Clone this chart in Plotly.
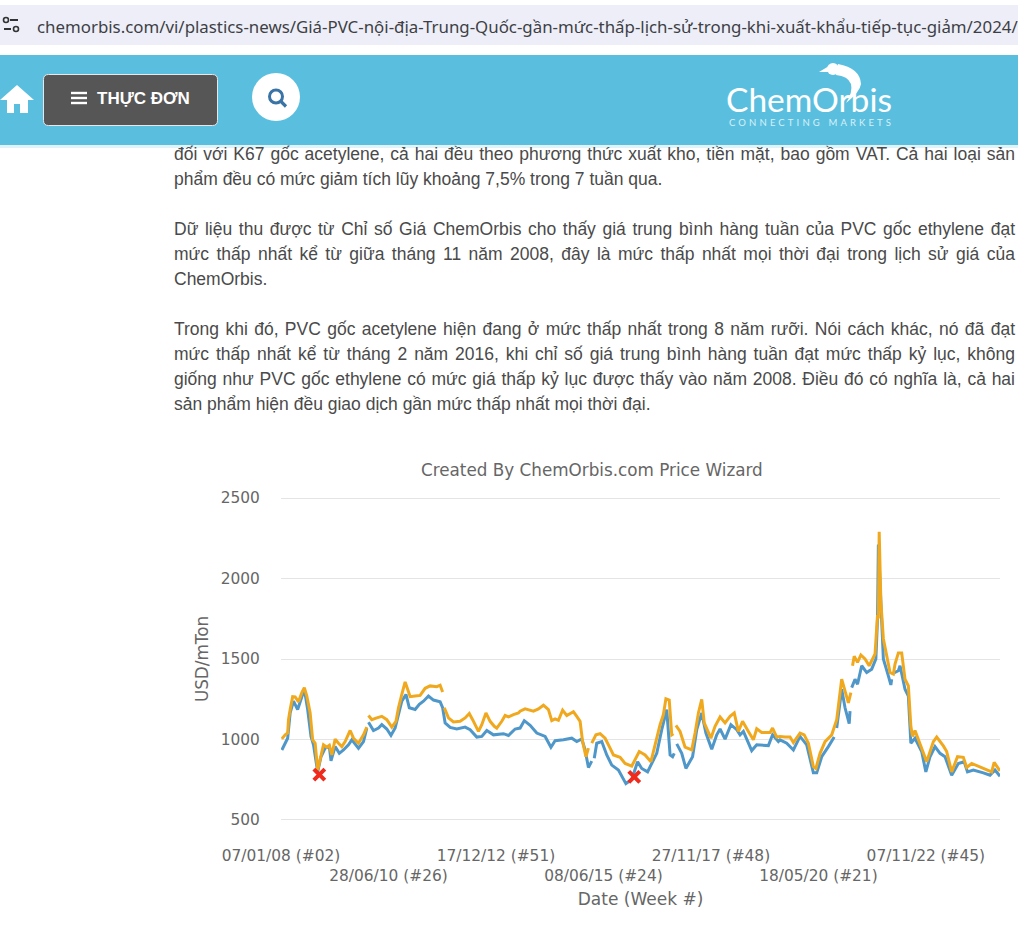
"""ChemOrbis article screenshot: PVC price chart with the page around it."""

import json

import plotly.graph_objects as go

# Weekly price readings, USD/mTon, week 0 = 07/01/08. None marks a gap in the line.
blue_weeks = [
    1, 5, 8, 11, 15, 20, 25, 28, 32, 36, 39, 44, 48, 53, 58, 60, 65, 70, 75, 81, 85, 93, 99, 103, 104,
    105, 111, 117, 121, 127, 132, 137, 141, 145, 150, 154, 161, 166, 171, 177, 183, 191, 194, 197, 203,
    211, 221, 227, 235, 241, 247, 255, 267, 273, 281, 287, 292, 299, 307, 317, 324, 329, 339, 349, 355,
    361, 365, 369, 373, 374, 376, 379, 385, 391, 397, 405, 414, 421, 428, 433, 440, 445, 451, 457, 463,
    467, 470, 472, 473, 475, 481, 486, 491, 494, 499, 505, 510, 517, 523, 527, 533, 540, 547, 551, 555,
    565, 571, 585, 590, 597, 599, 607, 615, 623, 631, 639, 643, 649, 657, 664, 665, 667, 673, 677, 682,
    683, 684, 685, 689, 692, 697, 703, 709, 714, 716, 717, 720, 723, 729, 732, 733, 734, 735, 741, 743,
    749, 753, 756, 761, 769, 774, 779, 785, 791, 797, 805, 813, 820, 824, 831, 843, 851, 857, 863,
]
blue_prices = [
    935, 977, 1008, 1165, 1238, 1186, 1259, 1312, 1186, 1019, 967, 799, 893, 946, 956, 868, 956, 914, 935,
    967, 998, 946, 987, 1071, None, 1107, 1056, 1071, 1092, 1065, 1025, 1071, 1165, 1238, 1280, 1197, 1186,
    1218, 1238, 1270, 1245, 1234, 1197, 1103, 1075, 1065, 1077, 1061, 1015, 1019, 1056, 1029, 1036, 1025,
    1065, 1071, 1117, 1088, 1040, 1019, 952, 992, 998, 1008, 987, 1004, 935, 826, 866, None, 883, 977, 987,
    904, 841, 810, 726, 751, 862, 820, 799, 851, 914, 1061, 1186, 904, 893, 914, None, 973, 914, 820, 872,
    893, 1061, 1165, 1040, 939, 1029, 1065, 1002, 1092, 1061, 1029, 1050, 931, 967, 962, 1029, 987, 998,
    977, 935, 1019, 967, 793, 793, 893, 956, 1015, None, 1071, 1312, 1197, 1098, 1176, None, 1322, 1374,
    1343, 1458, 1416, 1437, 1500, 1751, 2211, 1793, 1500, 1395, 1339, 1374, None, 1412, 1427, 1458, 1312,
    1270, 977, 1008, 925, 799, 893, 956, 914, 893, 778, 851, 862, 799, 810, 793, 778, 810, 772,
]
orange_weeks = [
    1, 5, 8, 9, 11, 14, 17, 21, 25, 28, 31, 35, 38, 41, 44, 47, 51, 55, 58, 61, 65, 69, 73, 77, 83, 87, 93,
    99, 103, 104, 105, 109, 115, 121, 127, 133, 138, 141, 145, 147, 149, 152, 155, 161, 167, 173, 179, 187,
    191, 194, 195, 196, 201, 207, 215, 221, 226, 230, 237, 241, 246, 251, 256, 259, 265, 269, 273, 279, 285,
    287, 293, 303, 309, 315, 321, 325, 329, 333, 338, 343, 351, 355, 359, 362, 366, 369, 371, 373, 378, 383,
    389, 395, 399, 407, 413, 421, 425, 430, 437, 444, 449, 455, 459, 462, 466, 469, 471, 472, 474, 479, 485,
    493, 497, 501, 505, 508, 516, 521, 527, 533, 539, 544, 549, 554, 561, 567, 571, 577, 587, 590, 595, 599,
    605, 611, 615, 623, 628, 633, 639, 642, 647, 653, 661, 665, 667, 673, 677, 681, 684, 685, 686, 688, 692,
    696, 701, 706, 713, 716, 717, 718, 720, 723, 727, 731, 735, 737, 741, 745, 749, 753, 756, 758, 761, 767,
    775, 783, 787, 795, 799, 805, 812, 819, 823, 829, 839, 853, 856, 863,
]
orange_prices = [
    1004, 1029, 1040, 1123, 1186, 1266, 1264, 1234, 1291, 1322, 1270, 1165, 998, 977, 810, 883, 967, 952,
    964, 904, 1002, 977, 956, 987, 1056, 1008, 977, 1029, 1077, None, 1149, 1123, 1134, 1144, 1123, 1077,
    1113, 1197, 1280, 1312, 1358, 1312, 1266, 1270, 1274, 1318, 1333, 1328, 1337, 1295, None, 1197, 1134,
    1109, 1113, 1134, 1161, 1123, 1050, 1092, 1165, 1113, 1082, 1071, 1113, 1149, 1140, 1155, 1165, 1176,
    1190, 1176, 1190, 1213, 1186, 1117, 1128, 1119, 1182, 1149, 1172, 1144, 1113, 987, 893, 946, None, 977,
    1029, 1036, 1008, 946, 904, 889, 851, 835, 872, 925, 904, 862, 967, 1092, 1155, 1253, 1245, 1029, 1036,
    None, 1088, 1050, 952, 935, 1040, 1165, 1249, 1103, 1008, 1082, 1140, 1103, 1144, 1165, 1050, 1113,
    1050, 998, 1067, 1044, 1044, 1071, 1015, 1019, 1015, 1015, 981, 1040, 1029, 977, 831, 820, 914, 987,
    1029, 1092, 1123, 1374, 1301, 1228, 1291, None, 1458, 1517, 1479, 1525, 1500, 1458, 1531, 1772, 1751,
    2290, 1856, 1626, 1521, 1416, 1406, 1469, 1538, 1538, 1374, 1333, 1082, 1019, 1056, 977, 862, 987, 1015,
    960, 925, 799, 893, 889, 826, 851, 831, 799, 858, 805,
]
low_weeks = [46, 424]
low_prices = [782, 768]

tick_weeks = [0, 129, 258, 387, 516, 645, 774]
tick_labels = [
    "07/01/08 (#02)",
    "<br>28/06/10 (#26)",
    "17/12/12 (#51)",
    "<br>08/06/15 (#24)",
    "27/11/17 (#48)",
    "<br>18/05/20 (#21)",
    "07/11/22 (#45)",
]

article_lines = [
    (154, "đối với K67 gốc acetylene, cả hai đều theo phương thức xuất kho, tiền mặt, bao gồm VAT. Cả hai loại sản", True),
    (179, "phẩm đều có mức giảm tích lũy khoảng 7,5% trong 7 tuần qua.", False),
    (229, "Dữ liệu thu được từ Chỉ số Giá ChemOrbis cho thấy giá trung bình hàng tuần của PVC gốc ethylene đạt", True),
    (254, "mức thấp nhất kể từ giữa tháng 11 năm 2008, đây là mức thấp nhất mọi thời đại trong lịch sử giá của", True),
    (279, "ChemOrbis.", False),
    (329, "Trong khi đó, PVC gốc acetylene hiện đang ở mức thấp nhất trong 8 năm rưỡi. Nói cách khác, nó đã đạt", True),
    (354, "mức thấp nhất kể từ tháng 2 năm 2016, khi chỉ số giá trung bình hàng tuần đạt mức thấp kỷ lục, không", True),
    (379, "giống như PVC gốc ethylene có mức giá thấp kỷ lục được thấy vào năm 2008. Điều đó có nghĩa là, cả hai", True),
    (404, "sản phẩm hiện đều giao dịch gần mức thấp nhất mọi thời đại.", False),
]
url = "chemorbis.com/vi/plastics-news/Giá-PVC-nội-địa-Trung-Quốc-gần-mức-thấp-lịch-sử-trong-khi-xuất-khẩu-tiếp-tục-giảm/2024/"

W, H = 1018, 931
TEAL = "#5abfdf"
TAGLINE = "CONNECTING MARKETS"


def rect(x0, y0, x1, y1, color, line=None, radius=0):
    """Rectangle in page pixels, optionally with rounded corners."""
    r = radius
    path = (
        f"M{x0 + r},{y0} L{x1 - r},{y0} Q{x1},{y0} {x1},{y0 + r} L{x1},{y1 - r} Q{x1},{y1} {x1 - r},{y1} "
        f"L{x0 + r},{y1} Q{x0},{y1} {x0},{y1 - r} L{x0},{y0 + r} Q{x0},{y0} {x0 + r},{y0} Z"
    )
    return dict(type="path", xref="x2", yref="y2", path=path, fillcolor=color,
                line=dict(color=line or color, width=1 if line else 0))


def circle(cx, cy, r, fill, line=None, width=0):
    return dict(type="circle", xref="x2", yref="y2", x0=cx - r, x1=cx + r, y0=cy - r, y1=cy + r,
                fillcolor=fill, line=dict(color=line or fill, width=width))


def stroke(x0, y0, x1, y1, color, width):
    return dict(type="line", xref="x2", yref="y2", x0=x0, y0=y0, x1=x1, y1=y1,
                line=dict(color=color, width=width))


def poly(path, color, width=0):
    return dict(type="path", xref="x2", yref="y2", path=path, fillcolor=color,
                line=dict(color=color, width=width))


def label(x, y, text, size, color, family, anchor="left"):
    return dict(xref="x2", yref="y2", x=x, y=y, text=text, showarrow=False, xanchor=anchor,
                yanchor="middle", align="left", borderpad=0,
                font=dict(size=size, color=color, family=family))


shapes = [
    rect(-20, 5, 1040, 45, "#edeef8", radius=18),
    stroke(10, 20, 18, 20, "#333333", 2),
    circle(6, 20, 2.5, "#edeef8", "#333333", 1.6),
    stroke(4, 29, 11, 29, "#333333", 2),
    circle(16, 29, 2.5, "#edeef8", "#333333", 1.6),
    rect(-2, 55, 1020, 145, TEAL),
    rect(-2, 145, 1020, 148, "#dff3f9"),
    rect(43.5, 74.5, 217.5, 125.5, "#565656", "#e8e8e8", 5),
    stroke(71, 93, 87, 93, "white", 2.4),
    stroke(71, 98, 87, 98, "white", 2.4),
    stroke(71, 103, 87, 103, "white", 2.4),
    poly("M17,85 L34,100 L28,100 L28,113 L20,113 L20,104 L14,104 L14,113 L7,113 L7,100 L0,100 Z", "white"),
    circle(276, 97, 24, "white"),
    circle(276, 96.5, 6.5, "white", "#3a74a6", 3),
    stroke(281, 101.5, 286, 106.5, "#3a74a6", 3.2),
    circle(833, 69, 6, "white"),
    poly("M819,72 L829,66 L829,72 Z", "white"),
    poly("M838,64 Q860,68 861,84 Q860,92 846,103 Q853,92 851,84 Q848,76 836,75 Z", "white"),
]

annotations = [
    label(35.5, 26, url, 16.85, "#3d3f45", "Noto Sans"),
    label(96, 98.5, "<b>THỰC ĐƠN</b>", 17, "white", "Liberation Sans"),
    label(725, 99, "ChemOrbis", 33.5, "white", "Lato"),
    label(728, 122, TAGLINE, 9.5, "#d8f0f8", "Lato"),
    label(592, 470, "Created By ChemOrbis.com Price Wizard", 16.8, "#666666", "DejaVu Sans", "center"),
]
for y, text, _ in article_lines:
    annotations.append(label(173, y, text, 17.5, "#4a4a4a", "Liberation Sans"))

fig = go.Figure()
fig.add_trace(go.Scatter(x=[None], y=[None], xaxis="x2", yaxis="y2", hoverinfo="skip"))
fig.add_trace(go.Scatter(x=blue_weeks, y=blue_prices, mode="lines", line=dict(color="#4f97c9", width=3)))
fig.add_trace(go.Scatter(x=orange_weeks, y=orange_prices, mode="lines", line=dict(color="#f0a91e", width=3)))
fig.add_trace(go.Scatter(x=low_weeks, y=low_prices, mode="markers",
                         marker=dict(symbol="x-thin", size=11, line=dict(width=4, color="#f02a1c"))))

tick_font = dict(family="DejaVu Sans", size=15.4, color="#666666")
fig.update_layout(
    width=W,
    height=H,
    margin=dict(l=0, r=0, t=0, b=0),
    paper_bgcolor="white",
    plot_bgcolor="rgba(0,0,0,0)",
    showlegend=False,
    shapes=shapes,
    annotations=annotations,
    xaxis=dict(
        domain=[281 / W, 1000 / W],
        range=[0, 863],
        tickmode="array",
        tickvals=tick_weeks,
        ticktext=tick_labels,
        tickangle=0,
        tickfont=tick_font,
        showgrid=False,
        zeroline=False,
        showline=False,
        ticks="outside",
        ticklen=20,
        tickcolor="rgba(0,0,0,0)",
        automargin=False,
        title=dict(text="Date (Week #)", standoff=9, font=dict(family="DejaVu Sans", size=17, color="#666666")),
    ),
    yaxis=dict(
        domain=[1 - 821.6 / H, 1 - 496.4 / H],
        range=[490, 2510],
        tickvals=[500, 1000, 1500, 2000, 2500],
        tickfont=tick_font,
        gridcolor="#e4e4e4",
        gridwidth=1,
        zeroline=False,
        showline=False,
        ticks="outside",
        ticklen=17,
        tickcolor="rgba(0,0,0,0)",
        automargin=False,
        title=dict(text="USD/mTon", standoff=7, font=dict(family="DejaVu Sans", size=16.8, color="#666666")),
    ),
    xaxis2=dict(domain=[0, 1], range=[0, W], visible=False, fixedrange=True, anchor="y2", automargin=False),
    yaxis2=dict(domain=[0, 1], range=[H, 0], visible=False, fixedrange=True, anchor="x2", automargin=False),
)

# Article lines are justified on the page, so widen their word gaps to the column width.
justified = [text for _, text, flag in article_lines if flag]
post_script = """
document.body.style.margin = '0';
document.body.style.overflow = 'hidden';
var justified = %s, tagline = %s;
document.querySelectorAll('.annotation text').forEach(function (t) {
    var s = t.textContent;
    if (s === tagline) t.style.letterSpacing = (162 - t.getComputedTextLength()) / (s.length - 1) + 'px';
    if (justified.indexOf(s) < 0) return;
    var gaps = s.split(' ').length - 1;
    t.style.wordSpacing = (841 - t.getComputedTextLength()) / gaps + 'px';
});
""" % (json.dumps(justified, ensure_ascii=False), json.dumps(TAGLINE))

fig.write_html("out.html", post_script=post_script, config=dict(displayModeBar=False))
